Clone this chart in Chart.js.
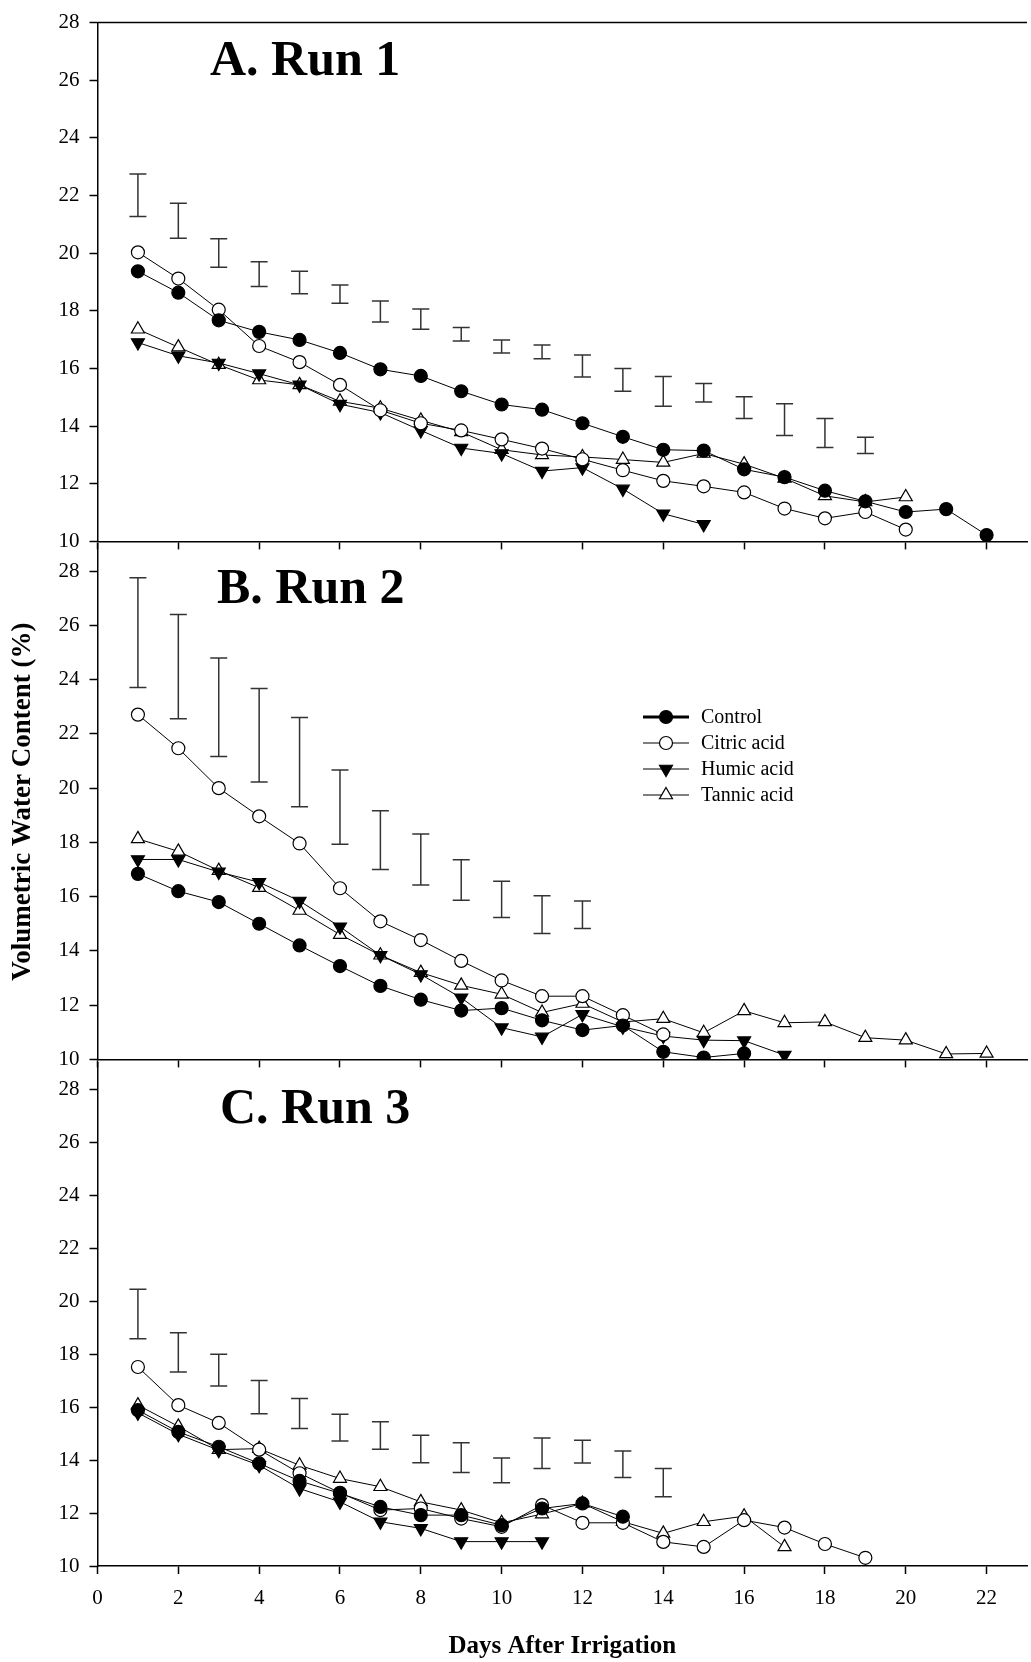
<!DOCTYPE html>
<html>
<head>
<meta charset="utf-8">
<title>Volumetric water content after irrigation</title>
<script src="https://cdn.jsdelivr.net/npm/chart.js@4.4.0/dist/chart.umd.min.js"></script>
<style>
  html, body { margin: 0; padding: 0; background: #fff; overflow: hidden; width: 1031px; height: 1662px; }
  canvas { position: absolute; left: 0; }
  #runA { top: 0; }
  #runB { top: 500px; }
  #runC { top: 1010px; }
</style>
</head>
<body>
<canvas id="runC" width="1037" height="652"></canvas>
<canvas id="runB" width="1037" height="582"></canvas>
<canvas id="runA" width="1037" height="564"></canvas>
<script>
// days after irrigation
const days = [1, 2, 3, 4, 5, 6, 7, 8, 9, 10, 11, 12, 13, 14, 15, 16, 17, 18, 19, 20, 21, 22];
const xTicks = [0, 2, 4, 6, 8, 10, 12, 14, 16, 18, 20, 22];
const yTicks = [10, 12, 14, 16, 18, 20, 22, 24, 26, 28];

// Run 1
const controlA = [19.37, 18.63, 17.67, 17.27, 16.99, 16.54, 15.97, 15.74, 15.21, 14.75, 14.57, 14.10, 13.63, 13.18, 13.15, 12.50, 12.23, 11.76, 11.39, 11.02, 11.12, 10.22];
const citricA  = [20.03, 19.12, 18.04, 16.78, 16.22, 15.43, 14.55, 14.10, 13.85, 13.54, 13.22, 12.85, 12.47, 12.10, 11.91, 11.70, 11.14, 10.80, 11.02, 10.41];
const humicA   = [16.90, 16.44, 16.19, 15.82, 15.43, 14.76, 14.47, 13.85, 13.24, 13.05, 12.44, 12.56, 11.82, 10.96, 10.59];
const tannicA  = [17.36, 16.74, 16.13, 15.60, 15.43, 14.86, 14.62, 14.20, 13.80, 13.18, 13.00, 12.93, 12.84, 12.74, 13.05, 12.68, 12.19, 11.58, 11.37, 11.54];
const barHiA = [22.75, 21.73, 20.50, 19.70, 19.37, 18.90, 18.34, 18.06, 17.42, 16.99, 16.81, 16.47, 16.00, 15.72, 15.48, 15.02, 14.78, 14.26, 13.61];
const barLoA = [21.27, 20.52, 19.51, 18.84, 18.59, 18.26, 17.61, 17.36, 16.95, 16.54, 16.34, 15.70, 15.21, 14.69, 14.84, 14.26, 13.67, 13.26, 13.05];

// Run 2
const controlB = [16.84, 16.20, 15.80, 15.00, 14.20, 13.44, 12.71, 12.20, 11.80, 11.89, 11.44, 11.08, 11.25, 10.28, 10.07, 10.22];
const citricB  = [22.71, 21.47, 20.00, 18.96, 17.96, 16.31, 15.09, 14.40, 13.63, 12.91, 12.33, 12.33, 11.63, 10.92];
const humicB   = [17.37, 17.37, 16.91, 16.53, 15.84, 14.89, 13.84, 13.13, 12.27, 11.17, 10.83, 11.66, 11.20, 10.86, 10.71, 10.69, 10.16];
const tannicB  = [18.13, 17.67, 16.96, 16.33, 15.49, 14.60, 13.84, 13.20, 12.73, 12.40, 11.73, 12.06, 11.38, 11.50, 10.98, 11.79, 11.35, 11.38, 10.80, 10.71, 10.20, 10.22];
const barHiB = [27.76, 26.40, 24.80, 23.67, 22.60, 20.67, 19.17, 18.31, 17.36, 16.57, 16.03, 15.84];
const barLoB = [23.71, 22.56, 21.17, 20.23, 19.31, 17.93, 17.00, 16.43, 15.87, 15.23, 14.64, 14.83];

// Run 3
const controlC = [15.88, 15.06, 14.50, 13.87, 13.21, 12.74, 12.23, 11.92, 11.92, 11.54, 12.17, 12.36, 11.86];
const citricC  = [17.51, 16.07, 15.40, 14.39, 13.50, 12.76, 12.11, 12.17, 11.79, 11.48, 12.30, 11.63, 11.63, 10.91, 10.72, 11.73, 11.45, 10.83, 10.31];
const humicC   = [15.78, 14.97, 14.37, 13.80, 12.92, 12.42, 11.67, 11.42, 10.92, 10.92, 10.92];
const tannicC  = [16.07, 15.27, 14.39, 14.43, 13.80, 13.30, 12.99, 12.42, 12.11, 11.63, 11.96, 12.36, 11.67, 11.23, 11.67, 11.88, 10.72];
const barHiC = [20.44, 18.80, 17.99, 17.00, 16.32, 15.73, 15.44, 14.93, 14.65, 14.08, 14.83, 14.75, 14.34, 13.68];
const barLoC = [18.58, 17.32, 16.79, 15.75, 15.19, 14.72, 14.41, 13.90, 13.53, 13.14, 13.68, 13.89, 13.34, 12.61];

const treatments = ['Control', 'Citric acid', 'Humic acid', 'Tannic acid'];

const markers = {
  'Control':     { pointStyle: 'circle',   rotation: 0,   fill: '#000', radius: 6.5, legendWidth: 3 },
  'Citric acid': { pointStyle: 'circle',   rotation: 0,   fill: '#fff', radius: 6.5, legendWidth: 1.2 },
  'Humic acid':  { pointStyle: 'triangle', rotation: 180, fill: '#000', radius: 7.5, legendWidth: 1.2 },
  'Tannic acid': { pointStyle: 'triangle', rotation: 0,   fill: '#fff', radius: 7.5, legendWidth: 1.2 }
};

const SERIF = '"Liberation Serif", "Times New Roman", serif';

function toPoints(values) {
  return values.map((v, i) => ({ x: days[i], y: v }));
}

// vertical bars with caps, split by null gaps
function toBars(lo, hi) {
  const out = [];
  lo.forEach((l, i) => {
    out.push({ x: days[i], y: l }, { x: days[i], y: hi[i] }, { x: days[i], y: null });
  });
  return out;
}

function seriesDataset(name, values) {
  const m = markers[name];
  return {
    label: name,
    data: toPoints(values),
    borderColor: '#000',
    borderWidth: 1,
    pointStyle: m.pointStyle,
    pointRotation: m.rotation,
    pointRadius: m.radius,
    pointBackgroundColor: m.fill,
    pointBorderColor: '#000',
    pointBorderWidth: 1.2,
    tension: 0
  };
}

function barDataset(lo, hi) {
  return {
    label: 'bars',
    data: toBars(lo, hi),
    borderColor: '#333',
    borderWidth: 1.5,
    pointStyle: 'line',
    pointRadius: 8.5,
    pointBorderColor: '#333',
    pointBorderWidth: 1.5,
    spanGaps: false
  };
}

const panelTitle = {
  id: 'panelTitle',
  afterDatasetsDraw(chart, args, opts) {
    const ctx = chart.ctx;
    ctx.save();
    ctx.font = 'bold 50px ' + SERIF;
    ctx.fillStyle = '#000';
    ctx.textBaseline = 'alphabetic';
    ctx.fillText(opts.text, opts.x, opts.y);
    ctx.restore();
  }
};

const topFrame = {
  id: 'topFrame',
  afterDraw(chart, args, opts) {
    if (!opts.show) return;
    const { ctx, chartArea } = chart;
    ctx.save();
    ctx.strokeStyle = '#000';
    ctx.lineWidth = 1.5;
    ctx.beginPath();
    ctx.moveTo(chartArea.left, chartArea.top);
    ctx.lineTo(chartArea.right, chartArea.top);
    ctx.stroke();
    ctx.restore();
  }
};

const innerLegend = {
  id: 'innerLegend',
  afterDraw(chart, args, opts) {
    if (!opts.show) return;
    const ctx = chart.ctx;
    ctx.save();
    treatments.forEach((name, i) => {
      const m = markers[name];
      const y = opts.y + i * opts.rowGap;
      ctx.strokeStyle = '#000';
      ctx.lineWidth = m.legendWidth;
      ctx.beginPath();
      ctx.moveTo(opts.x, y);
      ctx.lineTo(opts.x + 46, y);
      ctx.stroke();
      ctx.fillStyle = m.fill;
      ctx.lineWidth = 1.2;
      Chart.helpers.drawPoint(ctx, {
        pointStyle: m.pointStyle, rotation: m.rotation, radius: m.radius, borderWidth: 1.2
      }, opts.x + 23, y);
      ctx.fillStyle = '#000';
      ctx.font = '20px ' + SERIF;
      ctx.textBaseline = 'middle';
      ctx.fillText(name, opts.x + 58, y + 1);
    });
    ctx.restore();
  }
};

function makePanel(id, run, cfg) {
  const datasets = [
    seriesDataset('Control', run.control),
    seriesDataset('Citric acid', run.citric),
    seriesDataset('Humic acid', run.humic),
    seriesDataset('Tannic acid', run.tannic),
    barDataset(run.lo, run.hi)
  ];
  return new Chart(document.getElementById(id), {
    type: 'line',
    data: { datasets: datasets },
    options: {
      responsive: false,
      animation: false,
      events: [],
      layout: { padding: { top: cfg.padTop, left: 0, right: 0, bottom: 0 } },
      plugins: {
        legend: { display: false },
        tooltip: { enabled: false },
        panelTitle: cfg.title,
        topFrame: { show: !!cfg.frame },
        innerLegend: cfg.legend || { show: false }
      },
      scales: {
        x: {
          type: 'linear',
          min: 0,
          max: 23,
          afterBuildTicks: (s) => { s.ticks = xTicks.map(v => ({ value: v })); },
          afterFit: (s) => { s.height = cfg.xHeight; },
          grid: { drawOnChartArea: false, drawTicks: true, tickLength: 8, tickColor: '#000', tickWidth: 1.5 },
          border: { display: true, color: '#000', width: 1.5 },
          ticks: {
            display: cfg.xLabels,
            color: '#000',
            padding: 12,
            maxRotation: 0,
            font: { family: SERIF, size: 21 }
          },
          title: {
            display: cfg.xLabels,
            text: 'Days After Irrigation',
            color: '#000',
            padding: { top: 0, bottom: 0 },
            font: { family: SERIF, size: 25, weight: 'bold' }
          }
        },
        y: {
          type: 'linear',
          min: 10,
          max: cfg.yMax,
          afterBuildTicks: (s) => { s.ticks = yTicks.map(v => ({ value: v })); },
          afterFit: (s) => { s.width = 97.5; },
          grid: { drawOnChartArea: false, drawTicks: true, tickLength: 8, tickColor: '#000', tickWidth: 1.5 },
          border: { display: true, color: '#000', width: 1.5 },
          ticks: {
            color: '#000',
            padding: 10,
            font: { family: SERIF, size: 21 }
          },
          title: {
            display: !!cfg.yTitle,
            text: 'Volumetric Water Content (%)',
            color: '#000',
            padding: { top: 7, bottom: 0 },
            font: { family: SERIF, size: 27, weight: 'bold' }
          }
        }
      }
    },
    plugins: [panelTitle, topFrame, innerLegend]
  });
}

makePanel('runA',
  { control: controlA, citric: citricA, humic: humicA, tannic: tannicA, lo: barLoA, hi: barHiA },
  { padTop: 21, xHeight: 20, yMax: 28, xLabels: false, frame: true,
    title: { text: 'A. Run 1', x: 210, y: 75 } });

makePanel('runB',
  { control: controlB, citric: citricB, humic: humicB, tannic: tannicB, lo: barLoB, hi: barHiB },
  { padTop: 44, xHeight: 20, yMax: 29, xLabels: false, yTitle: true,
    title: { text: 'B. Run 2', x: 217, y: 103 },
    legend: { show: true, x: 643, y: 217, rowGap: 26 } });

makePanel('runC',
  { control: controlC, citric: citricC, humic: humicC, tannic: tannicC, lo: barLoC, hi: barHiC },
  { padTop: 52.5, xHeight: 96, yMax: 29, xLabels: true,
    title: { text: 'C. Run 3', x: 220, y: 113 } });
</script>
</body>
</html>
